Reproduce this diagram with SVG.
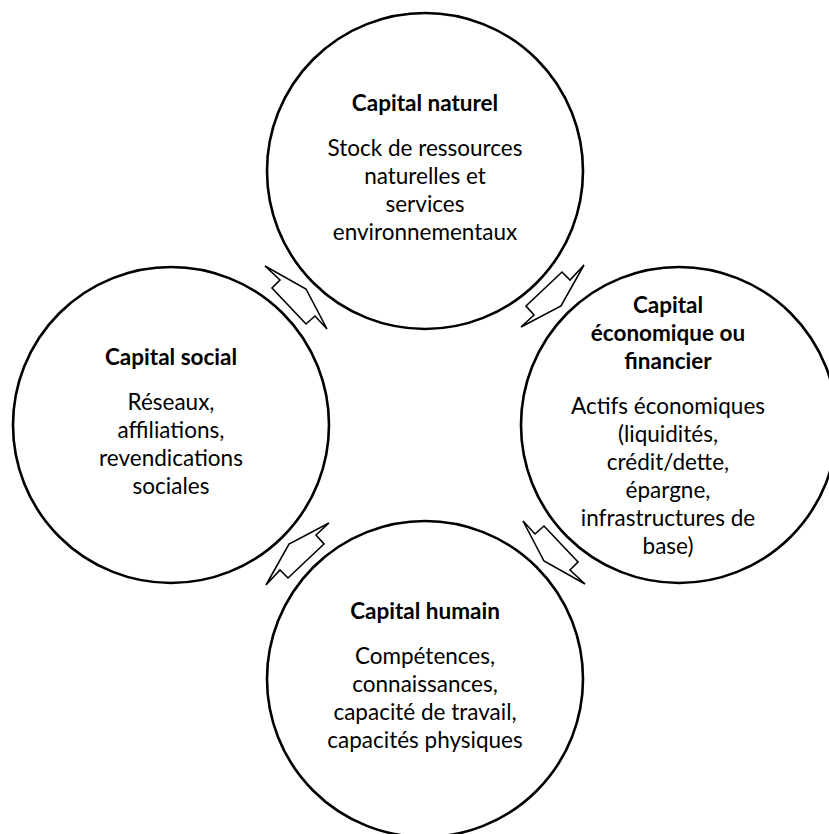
<svg xmlns="http://www.w3.org/2000/svg" width="829" height="834" viewBox="0 0 829 834">
<defs>
<style>
.c{fill:#fff;stroke:#000;stroke-width:2.6}
.a{fill:#fff;stroke:#000;stroke-width:1.6;stroke-linejoin:miter}
text{font-family:Lato,"Liberation Sans",sans-serif;font-size:22.5px;fill:#000;text-anchor:middle}
.t{font-weight:bold}
</style>
<polygon id="arr" class="a" points="265,266 306,289 327,329 315,316 306,324 272,288 280,280"/>
</defs>
<rect width="829" height="834" fill="#fff"/>
<g id="connectors">
<use href="#arr"/>
<use href="#arr" transform="rotate(90 425 425)"/>
<use href="#arr" transform="rotate(180 425 425)"/>
<use href="#arr" transform="rotate(270 425 425)"/>
</g>
<g id="node-naturel">
<circle class="c" cx="425" cy="171" r="158"/>
<text class="t" x="425" y="111">Capital naturel</text>
<text x="425" y="156">Stock de ressources</text>
<text x="425" y="184">naturelles et</text>
<text x="425" y="212">services</text>
<text x="425" y="240">environnementaux</text>
</g>
<g id="node-economique">
<circle class="c" cx="679" cy="425" r="158"/>
<text class="t" x="668" y="313">Capital</text>
<text class="t" x="668" y="341">économique ou</text>
<text class="t" x="668" y="369">financier</text>
<text x="668" y="414">Actifs économiques</text>
<text x="668" y="442">(liquidités,</text>
<text x="668" y="470">crédit/dette,</text>
<text x="668" y="498">épargne,</text>
<text x="668" y="526">infrastructures de</text>
<text x="668" y="554">base)</text>
</g>
<g id="node-humain">
<circle class="c" cx="425" cy="679" r="158"/>
<text class="t" x="425" y="619">Capital humain</text>
<text x="425" y="664">Compétences,</text>
<text x="425" y="692">connaissances,</text>
<text x="425" y="720">capacité de travail,</text>
<text x="425" y="748">capacités physiques</text>
</g>
<g id="node-social">
<circle class="c" cx="171" cy="425" r="158"/>
<text class="t" x="171" y="365">Capital social</text>
<text x="171" y="410">Réseaux,</text>
<text x="171" y="438">affiliations,</text>
<text x="171" y="466">revendications</text>
<text x="171" y="494">sociales</text>
</g>
</svg>
